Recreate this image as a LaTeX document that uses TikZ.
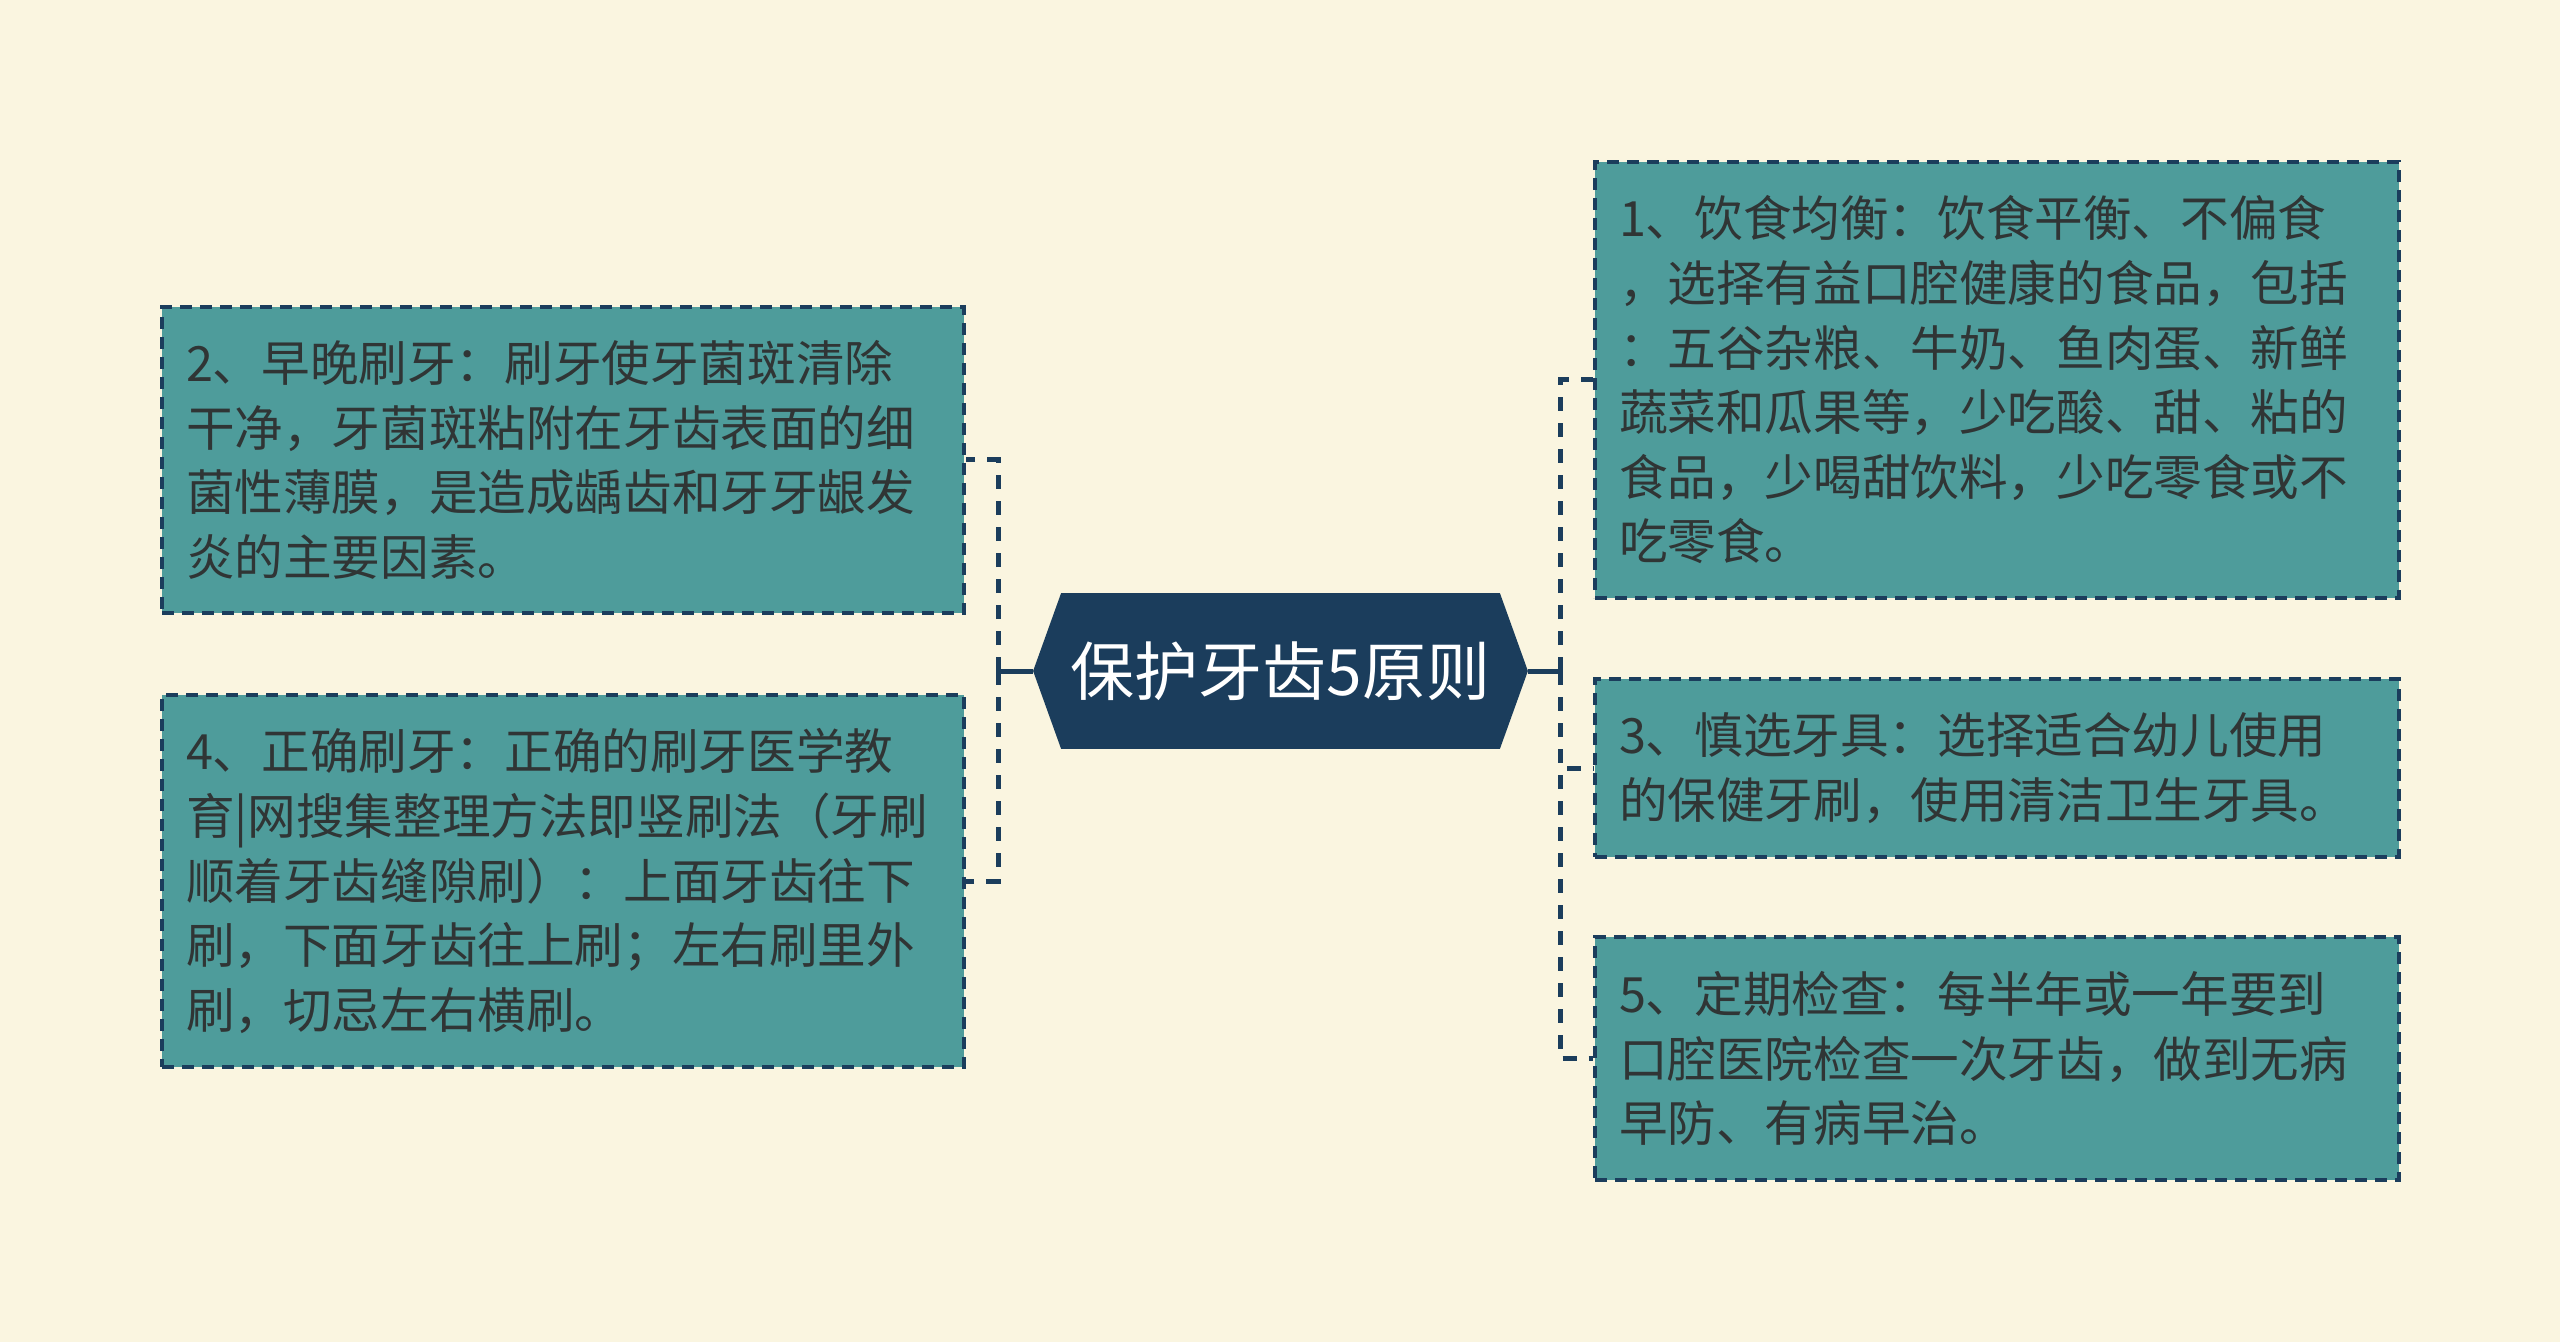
\documentclass[tikz,border=0pt]{standalone}
\usepackage{fontspec}
\setmainfont{Noto Sans CJK SC}
\usetikzlibrary{calc}
\definecolor{bgc}{HTML}{FAF5E0}
\definecolor{tealbox}{HTML}{4E9C9B}
\definecolor{mynavy}{HTML}{1B3D5C}
\definecolor{txtc}{HTML}{303535}
\pgfdeclarelayer{bg}
\pgfsetlayers{bg,main}
\tikzset{
  box/.style={draw=mynavy, line width=1.7pt, dash pattern=on 6pt off 4pt,
    fill=tealbox, text=txtc, align=left, inner xsep=12pt, inner ysep=0pt,
    font=\fontsize{24.3}{32.3}\selectfont, anchor=center},
  conn/.style={draw=mynavy, line width=2.5pt},
  dconn/.style={conn, dash pattern=on 7pt off 6pt},
  rootnode/.style={font=\fontsize{32}{38}\selectfont, text=white,
    minimum width=219pt, minimum height=77.5pt, inner sep=0pt}
}
\begin{document}
\begin{tikzpicture}[x=0.5pt,y=-0.5pt]
\useasboundingbox (0,0) rectangle (2560,1342);

\node[rootnode] (root) at (1280.5,671) {保护牙齿5原则};
\coordinate (tipL) at ($(root.west)+(-28,0)$);
\coordinate (tipR) at ($(root.east)+(28,0)$);
\coordinate (JL) at (998,671);
\coordinate (JR) at (1560,671);

\node[box, text width=378pt, minimum height=218pt] (b1) at (1997,380) {%
1、饮食均衡：饮食平衡、不偏食\\
，选择有益口腔健康的食品，包括\\
：五谷杂粮、牛奶、鱼肉蛋、新鲜\\
蔬菜和瓜果等，少吃酸、甜、粘的\\
食品，少喝甜饮料，少吃零食或不\\
吃零食。};

\node[box, text width=377pt, minimum height=153pt] (b2) at (563,460) {%
2、早晚刷牙：刷牙使牙菌斑清除\\
干净，牙菌斑粘附在牙齿表面的细\\
菌性薄膜，是造成龋齿和牙牙龈发\\
炎的主要因素。};

\node[box, text width=378pt, minimum height=89pt] (b3) at (1997,768) {%
3、慎选牙具：选择适合幼儿使用\\
的保健牙刷，使用清洁卫生牙具。};

\node[box, text width=377pt, minimum height=186pt] (b4) at (563,881) {%
4、正确刷牙：正确的刷牙医学教\\
育|网搜集整理方法即竖刷法（牙刷\\
顺着牙齿缝隙刷）：上面牙齿往下\\
刷，下面牙齿往上刷；左右刷里外\\
刷，切忌左右横刷。};

\node[box, text width=378pt, minimum height=121.5pt] (b5) at (1997,1058.5) {%
5、定期检查：每半年或一年要到\\
口腔医院检查一次牙齿，做到无病\\
早防、有病早治。};

\begin{pgfonlayer}{bg}
  \fill[bgc] (0,0) rectangle (2560,1342);
  \fill[mynavy] (root.north west) -- (tipL) -- (root.south west)
     -- (root.south east) -- (tipR) -- (root.north east) -- cycle;
\end{pgfonlayer}

\draw[conn] (tipL) -- (JL);
\draw[dconn] (JL) |- (b2.east);
\draw[dconn] (JL) |- (b4.east);
\draw[conn] (tipR) -- (JR);
\draw[dconn] (JR) |- (b1.west);
\draw[dconn] (JR) |- (b3.west);
\draw[dconn] (JR) |- (b5.west);
\end{tikzpicture}
\end{document}
